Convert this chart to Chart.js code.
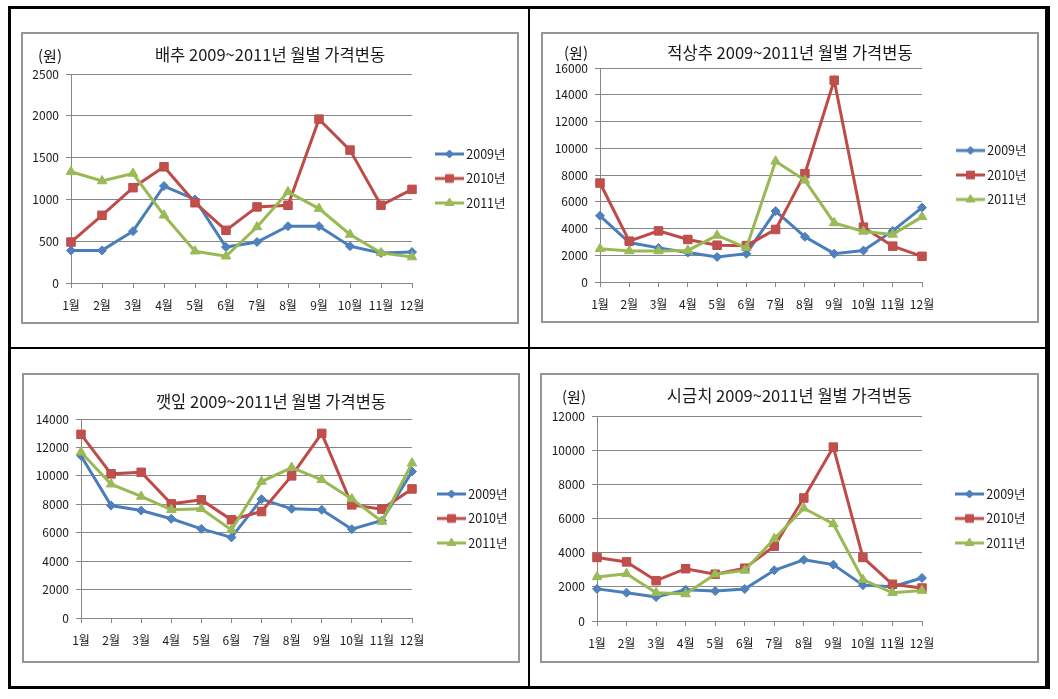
<!DOCTYPE html>
<html lang="ko">
<head>
<meta charset="utf-8">
<title>2009~2011년 월별 가격변동</title>
<script src="https://cdn.jsdelivr.net/npm/chart.js@4.4.1/dist/chart.umd.min.js"></script>
<style>
  html, body { margin: 0; padding: 0; background: #fff; }
  body { width: 1058px; height: 699px; position: relative; overflow: hidden;
         font-family: "Noto Sans CJK KR", "Noto Sans", sans-serif; }
  #outer { position: absolute; left: 8px; top: 6px; width: 1034px; height: 677px;
           border-style: solid; border-color: #000; border-width: 3px 5px 3px 3px; }
  .vline { position: absolute; left: 528px; top: 6px; width: 2px; height: 683px; background: #000; }
  .hline { position: absolute; left: 8px; top: 347px; width: 1042px; height: 2px; background: #000; }
  .panel { position: absolute; border: 2px solid #959595; background: #fff; }
  .panel canvas { display: block; }
  .unit { position: absolute; font-size: 15px; color: #111; transform: translate(-50%, -50%); white-space: nowrap; }
</style>
</head>
<body>
<div id="outer"></div>
<div class="vline"></div>
<div class="hline"></div>
<script>
const months = ['1월', '2월', '3월', '4월', '5월', '6월', '7월', '8월', '9월', '10월', '11월', '12월'];
const years = ['2009년', '2010년', '2011년'];

// 배추 (원)
const cabbage2009 = [390, 390, 620, 1160, 1000, 430, 490, 680, 680, 440, 360, 370];
const cabbage2010 = [490, 810, 1140, 1390, 960, 630, 910, 930, 1960, 1590, 930, 1120];
const cabbage2011 = [1330, 1220, 1310, 810, 380, 320, 670, 1090, 890, 580, 360, 310];

// 적상추 (원)
const lettuce2009 = [4950, 2950, 2550, 2200, 1870, 2120, 5300, 3380, 2120, 2350, 3820, 5560];
const lettuce2010 = [7400, 3050, 3820, 3180, 2750, 2720, 3930, 8100, 15080, 4100, 2680, 1920];
const lettuce2011 = [2480, 2320, 2320, 2360, 3480, 2560, 9020, 7600, 4420, 3780, 3560, 4870];

// 깻잎
const perilla2009 = [11420, 7910, 7560, 6980, 6270, 5670, 8360, 7680, 7610, 6250, 6860, 10300];
const perilla2010 = [12920, 10140, 10250, 8030, 8310, 6910, 7490, 10000, 12990, 7960, 7660, 9080];
const perilla2011 = [11660, 9410, 8550, 7610, 7680, 6200, 9600, 10580, 9720, 8380, 6790, 10890];

// 시금치 (원)
const spinach2009 = [1880, 1660, 1400, 1830, 1750, 1870, 2970, 3580, 3300, 2100, 2010, 2520];
const spinach2010 = [3720, 3460, 2360, 3060, 2740, 3090, 4380, 7200, 10180, 3720, 2150, 1930];
const spinach2011 = [2580, 2760, 1650, 1580, 2740, 2960, 4820, 6600, 5680, 2420, 1650, 1780];

const charts = [
  { title: '배추 2009~2011년 월별 가격변동', unit: '(원)', series: [cabbage2009, cabbage2010, cabbage2011], max: 2500, step: 500 },
  { title: '적상추 2009~2011년 월별 가격변동', unit: '(원)', series: [lettuce2009, lettuce2010, lettuce2011], max: 16000, step: 2000 },
  { title: '깻잎 2009~2011년 월별 가격변동', unit: null, series: [perilla2009, perilla2010, perilla2011], max: 14000, step: 2000 },
  { title: '시금치 2009~2011년 월별 가격변동', unit: '(원)', series: [spinach2009, spinach2010, spinach2011], max: 12000, step: 2000 }
];

// page positions: frame [x, y, w, h], plot area [left, top, right, bottom], title centre y,
// start x of the legend keys, centre of the "(원)" label
const layouts = [
  { frame: [21, 32, 498, 292], plot: [71, 74, 412, 283], titleY: 55, keyX: 435, unitAt: [50, 55] },
  { frame: [541, 32, 498, 291], plot: [600, 68, 922, 282], titleY: 53, keyX: 956, unitAt: [576, 52] },
  { frame: [22, 373, 498, 290], plot: [81, 419, 412, 618], titleY: 402, keyX: 437, unitAt: null },
  { frame: [540, 373, 499, 290], plot: [597, 416, 922, 621], titleY: 396, keyX: 955, unitAt: [574, 396] }
];

const lineColors = ['#4A7EBB', '#BE4B48', '#98B954'];
const markerColors = ['#4F81BD', '#C0504D', '#9BBB59'];
const markerStyles = ['rectRot', 'rect', 'triangle'];
const markerSizes = [4.5, 6, 5.5];

const FRAME = 2;
const FAMILY = '"Noto Sans CJK KR", "Noto Sans", sans-serif';
const GRID = '#878787';
const TEXT = '#1a1a1a';
const TITLE_SIZE = 16.5;

// fixes the legend box width so the plot area ends where it should
const legendWidth = {
  id: 'legendWidth',
  beforeLayout(chart, args, opts) {
    const legend = chart.legend;
    if (!legend || legend._fixedWidth) return;
    const fit = legend.fit;
    legend.fit = function () {
      fit.call(this);
      this.width = opts.width;
    };
    legend._fixedWidth = true;
  }
};

function drawMarker(g, i, x, y) {
  const r = markerSizes[i] - 0.5;
  g.fillStyle = markerColors[i];
  g.strokeStyle = lineColors[i];
  g.lineWidth = 1;
  g.beginPath();
  if (markerStyles[i] === 'rectRot') {
    g.moveTo(x - r, y); g.lineTo(x, y - r); g.lineTo(x + r, y); g.lineTo(x, y + r);
  } else if (markerStyles[i] === 'rect') {
    const s = r * Math.SQRT1_2;
    g.rect(x - s, y - s, 2 * s, 2 * s);
  } else {
    g.moveTo(x, y - r); g.lineTo(x + r * 0.866, y + r / 2); g.lineTo(x - r * 0.866, y + r / 2);
  }
  g.closePath();
  g.fill();
  g.stroke();
}

// Excel style legend key: short line with the marker in the middle
function legendKey(i, off) {
  const box = off + 25;
  const c = box / 2;
  const half = Math.max(off + 30 - c, c - off) + 6;
  const w = Math.ceil(half * 2), h = 16;
  const cv = document.createElement('canvas');
  cv.width = w;
  cv.height = h;
  const g = cv.getContext('2d');
  const x0 = w / 2 - c + off;
  const y0 = h / 2;
  g.strokeStyle = lineColors[i];
  g.lineWidth = 3;
  g.beginPath();
  g.moveTo(x0, y0);
  g.lineTo(x0 + 29, y0);
  g.stroke();
  drawMarker(g, i, x0 + 14.5, y0);
  return cv;
}

function makeChart(chart, lay) {
  const [fx, fy, fw, fh] = lay.frame;
  const [pl, pt, pr, pb] = lay.plot;
  const cx = fx + FRAME, cy = fy + FRAME;
  const cw = fw - 2 * FRAME, ch = fh - 2 * FRAME;

  const panel = document.createElement('div');
  panel.className = 'panel';
  panel.style.cssText = `left:${fx}px;top:${fy}px;width:${cw}px;height:${ch}px`;
  const canvas = document.createElement('canvas');
  canvas.width = cw;
  canvas.height = ch;
  panel.appendChild(canvas);
  document.body.appendChild(panel);

  if (chart.unit && lay.unitAt) {
    const u = document.createElement('div');
    u.className = 'unit';
    u.textContent = chart.unit;
    u.style.left = lay.unitAt[0] + 'px';
    u.style.top = lay.unitAt[1] + 'px';
    document.body.appendChild(u);
  }

  const left = pl - cx, right = pr - cx, top = pt - cy, bottom = pb - cy;
  const titleLine = TITLE_SIZE * 1.2;
  const titleTop = lay.titleY - cy - titleLine / 2;
  const keyOff = lay.keyX - cx - right - 12;
  const keys = years.map((y, i) => legendKey(i, keyOff));
  const tickFont = { family: FAMILY, size: 12 };

  new Chart(canvas, {
    type: 'line',
    data: {
      labels: months,
      datasets: chart.series.map((values, i) => ({
        label: years[i],
        data: values,
        order: 3 - i,
        borderColor: lineColors[i],
        borderWidth: 3,
        pointStyle: markerStyles[i],
        pointRadius: markerSizes[i],
        pointBackgroundColor: markerColors[i],
        pointBorderColor: lineColors[i],
        pointBorderWidth: 1,
        tension: 0,
        fill: false
      }))
    },
    options: {
      responsive: false,
      animation: false,
      events: [],
      layout: { padding: 0 },
      scales: {
        x: {
          offset: false,
          grid: { drawOnChartArea: false, color: GRID, tickLength: 5 },
          border: { color: GRID },
          ticks: { autoSkip: false, maxRotation: 0, padding: 10, color: TEXT, font: tickFont },
          afterFit: (s) => { s.height = ch - bottom; }
        },
        y: {
          min: 0,
          max: chart.max,
          grid: { color: GRID, tickLength: 5 },
          border: { color: GRID },
          ticks: { stepSize: chart.step, padding: 7, color: TEXT, font: tickFont, callback: (v) => v },
          afterFit: (s) => { s.width = left; }
        }
      },
      plugins: {
        title: {
          display: true,
          text: chart.title,
          color: TEXT,
          font: { family: FAMILY, size: TITLE_SIZE, weight: 'normal', lineHeight: 1.2 },
          padding: { top: titleTop, bottom: top - titleTop - titleLine }
        },
        legend: {
          position: 'right',
          fullSize: false,
          align: 'center',
          labels: {
            usePointStyle: true,
            pointStyleWidth: keyOff + 25,
            boxHeight: 12,
            padding: 12,
            color: TEXT,
            font: { family: FAMILY, size: 12.5 },
            sort: (a, b) => a.datasetIndex - b.datasetIndex,
            generateLabels: (c) => Chart.defaults.plugins.legend.labels.generateLabels(c)
              .map(item => ({ ...item, pointStyle: keys[item.datasetIndex] }))
          }
        },
        legendWidth: { width: cw - right },
        tooltip: { enabled: false }
      }
    },
    plugins: [legendWidth]
  });
}

charts.forEach((c, i) => makeChart(c, layouts[i]));
</script>
</body>
</html>
